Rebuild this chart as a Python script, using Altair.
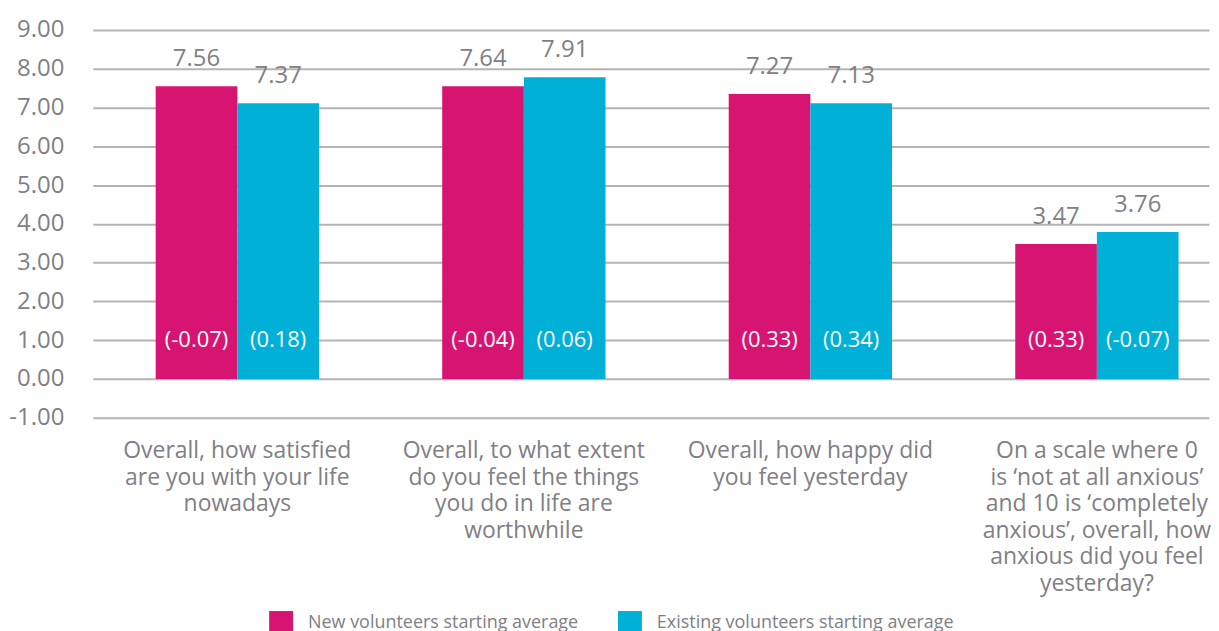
import altair as alt
import pandas as pd

categories = [
    "Overall, how satisfied|are you with your life|nowadays",
    "Overall, to what extent|do you feel the things|you do in life are|worthwhile",
    "Overall, how happy did|you feel yesterday",
    "On a scale where 0|is \u2018not at all anxious\u2019|and 10 is \u2018completely|anxious\u2019, overall, how|anxious did you feel|yesterday?",
]
series = ["New volunteers starting average", "Existing volunteers starting average"]

new_bar = [7.55, 7.55, 7.35, 3.48]
existing_bar = [7.11, 7.78, 7.11, 3.79]
new_label = ["7.56", "7.64", "7.27", "3.47"]
existing_label = ["7.37", "7.91", "7.13", "3.76"]
new_change = ["(-0.07)", "(-0.04)", "(0.33)", "(0.33)"]
existing_change = ["(0.18)", "(0.06)", "(0.34)", "(-0.07)"]
y_ticks = [-1, 0, 1, 2, 3, 4, 5, 6, 7, 8, 9]

rows = []
for i, c in enumerate(categories):
    rows.append({"category": c, "series": series[0], "value": new_bar[i],
                 "label": new_label[i], "change": new_change[i], "one": 1})
    rows.append({"category": c, "series": series[1], "value": existing_bar[i],
                 "label": existing_label[i], "change": existing_change[i], "one": 1})
df = pd.DataFrame(rows)

FONT = "Open Sans"
GREY = "#808084"

x_enc = alt.X(
    "category:N", sort=categories, title=None,
    scale=alt.Scale(paddingInner=0.43, paddingOuter=0.163, align=0.674),
    axis=alt.Axis(labelExpr="split(datum.label, '|')", labelAngle=0,
                  labelFontSize=23, labelColor=GREY, labelFont=FONT,
                  labelLineHeight=26.7, labelBaseline="top", labelPadding=22,
                  labelLimit=0, domain=False, ticks=False, grid=False),
)
xoff = alt.XOffset("series:N", sort=series,
                   scale=alt.Scale(paddingInner=0, paddingOuter=0))
y_scale = alt.Scale(domain=[-1, 9], nice=False, zero=False)
y_axis = alt.Axis(values=y_ticks, tickCount=20, format=".2f",
                  labelExpr="replace(datum.label, '\u2212', '-')",
                  labelOverlap=False,
                  labelFontSize=24, labelColor=GREY, labelFont=FONT,
                  labelPadding=29, domain=False, ticks=False,
                  grid=True, gridColor="#b4b4b8", gridWidth=2,
                  minExtent=84, maxExtent=84)

base = alt.Chart(df).encode(x=x_enc, xOffset=xoff)

bars = base.mark_bar().encode(
    y=alt.Y("value:Q", scale=y_scale, title=None, axis=y_axis),
    color=alt.Color("series:N", sort=series,
                    scale=alt.Scale(domain=series, range=["#d81472", "#00b0d6"]),
                    legend=alt.Legend(title=None, orient="none", direction="horizontal",
                                      legendX=177, legendY=583, symbolType="square",
                                      symbolSize=576, symbolStrokeWidth=0,
                                      labelFontSize=18, labelColor=GREY, labelFont=FONT,
                                      labelLimit=500,
                                      labelOffset=15, columnPadding=39, padding=0)),
)

value_text = base.mark_text(fontSize=24, color=GREY, font=FONT, baseline="middle", dy=-27).encode(
    y=alt.Y("value:Q", scale=y_scale, title=None, axis=y_axis),
    text="label:N",
)

change_text = base.mark_text(fontSize=22, color="white", font=FONT, baseline="middle").encode(
    y=alt.Y("one:Q", scale=y_scale, title=None, axis=y_axis),
    text="change:N",
)

chart = (bars + value_text + change_text).properties(
    width=1120, height=389,
    padding={"left": 0, "top": 9, "right": 0, "bottom": 0},
).configure_view(stroke=None)

chart.save("out.html", embed_options={"renderer": "svg", "actions": False})
